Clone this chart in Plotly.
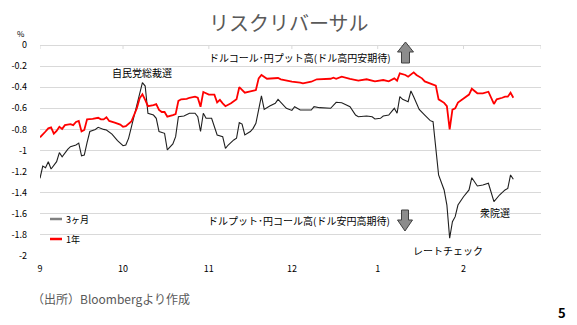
import plotly.graph_objects as go

# ---------------- data ----------------
dates_1y = ["2025-09-01","2025-09-02","2025-09-03","2025-09-04","2025-09-05","2025-09-06","2025-09-07",
            "2025-09-08","2025-09-09","2025-09-10","2025-09-12","2025-09-13","2025-09-14","2025-09-15",
            "2025-09-16","2025-09-17","2025-09-18","2025-09-20","2025-09-22","2025-09-23","2025-09-24",
            "2025-09-25","2025-09-26","2025-09-28","2025-09-30","2025-10-01","2025-10-02","2025-10-04",
            "2025-10-05","2025-10-06","2025-10-07","2025-10-08","2025-10-09","2025-10-10","2025-10-12",
            "2025-10-13","2025-10-14","2025-10-15","2025-10-16","2025-10-17","2025-10-19","2025-10-20",
            "2025-10-21","2025-10-22","2025-10-24","2025-10-25","2025-10-27","2025-10-28","2025-10-29",
            "2025-10-30","2025-11-01","2025-11-02","2025-11-03","2025-11-04","2025-11-05","2025-11-06",
            "2025-11-07","2025-11-09","2025-11-11","2025-11-12","2025-11-14","2025-11-16","2025-11-18",
            "2025-11-19","2025-11-20","2025-11-22","2025-11-24","2025-11-26","2025-11-27","2025-11-29",
            "2025-12-01","2025-12-04","2025-12-05","2025-12-08","2025-12-10","2025-12-15","2025-12-16",
            "2025-12-17","2025-12-19","2025-12-22","2025-12-25","2025-12-28","2025-12-31","2026-01-03",
            "2026-01-05","2026-01-07","2026-01-08","2026-01-09","2026-01-11","2026-01-12","2026-01-14",
            "2026-01-15","2026-01-17","2026-01-18","2026-01-21","2026-01-22","2026-01-23","2026-01-25",
            "2026-01-26","2026-01-27","2026-01-28","2026-01-29","2026-01-30","2026-02-01","2026-02-03",
            "2026-02-04","2026-02-06","2026-02-08","2026-02-10","2026-02-12","2026-02-13","2026-02-15",
            "2026-02-16","2026-02-17","2026-02-18","2026-02-19"]
vals_1y = [-0.875,-0.85,-0.82,-0.79,-0.78,-0.84,-0.815,
           -0.775,-0.795,-0.76,-0.75,-0.76,-0.73,-0.72,
           -0.82,-0.805,-0.705,-0.70,-0.69,-0.705,-0.705,
           -0.685,-0.72,-0.735,-0.755,-0.775,-0.77,-0.725,
           -0.665,-0.60,-0.505,-0.467,-0.52,-0.58,-0.57,
           -0.56,-0.615,-0.635,-0.635,-0.68,-0.665,-0.655,
           -0.53,-0.515,-0.51,-0.50,-0.49,-0.50,-0.585,
           -0.445,-0.47,-0.467,-0.47,-0.545,-0.52,-0.553,
           -0.58,-0.553,-0.515,-0.40,-0.452,-0.44,-0.427,
           -0.316,-0.284,-0.32,-0.32,-0.313,-0.325,-0.338,
           -0.348,-0.357,-0.363,-0.348,-0.325,-0.32,-0.31,
           -0.32,-0.30,-0.32,-0.338,-0.325,-0.344,-0.332,
           -0.344,-0.316,-0.338,-0.268,-0.284,-0.30,-0.259,
           -0.284,-0.316,-0.345,-0.37,-0.385,-0.515,-0.548,
           -0.58,-0.80,-0.613,-0.60,-0.545,-0.51,-0.47,
           -0.415,-0.458,-0.458,-0.443,-0.559,-0.515,-0.50,
           -0.49,-0.49,-0.452,-0.50]

dates_3m = ["2025-09-01","2025-09-02","2025-09-03","2025-09-04","2025-09-05","2025-09-07","2025-09-08",
            "2025-09-09","2025-09-11","2025-09-12","2025-09-14","2025-09-15","2025-09-16","2025-09-17",
            "2025-09-18","2025-09-19","2025-09-21","2025-09-22","2025-09-24","2025-09-25","2025-09-27",
            "2025-09-29","2025-10-01","2025-10-02","2025-10-03","2025-10-04","2025-10-05","2025-10-06",
            "2025-10-07","2025-10-08","2025-10-09","2025-10-10","2025-10-12","2025-10-13","2025-10-14",
            "2025-10-16","2025-10-17","2025-10-19","2025-10-20","2025-10-21","2025-10-23","2025-10-25",
            "2025-10-27","2025-10-28","2025-10-29","2025-10-30","2025-10-31","2025-11-02","2025-11-04",
            "2025-11-06","2025-11-07","2025-11-08","2025-11-10","2025-11-11","2025-11-12","2025-11-13",
            "2025-11-14","2025-11-16","2025-11-17","2025-11-18","2025-11-20","2025-11-21","2025-11-23",
            "2025-11-25","2025-11-26","2025-11-28","2025-11-29","2025-12-01","2025-12-02","2025-12-04",
            "2025-12-08","2025-12-09","2025-12-11","2025-12-15","2025-12-17","2025-12-19","2025-12-22",
            "2025-12-24","2025-12-25","2025-12-28","2025-12-30","2025-12-31","2026-01-02","2026-01-03",
            "2026-01-05","2026-01-07","2026-01-08","2026-01-09","2026-01-10","2026-01-12","2026-01-13",
            "2026-01-14","2026-01-16","2026-01-18","2026-01-20","2026-01-21","2026-01-22","2026-01-23",
            "2026-01-25","2026-01-26","2026-01-27","2026-01-28","2026-01-29","2026-01-30","2026-02-01",
            "2026-02-03","2026-02-04","2026-02-06","2026-02-08","2026-02-10","2026-02-12","2026-02-14",
            "2026-02-16","2026-02-17","2026-02-18","2026-02-19"]
vals_3m = [-1.264,-1.147,-1.163,-1.106,-1.175,-1.106,-1.02,
           -1.06,-0.99,-0.964,-0.948,-0.93,-1.05,-1.043,
           -0.926,-0.82,-0.80,-0.78,-0.80,-0.806,-0.844,
           -0.907,-0.955,-0.948,-0.885,-0.774,-0.68,-0.58,
           -0.47,-0.357,-0.389,-0.647,-0.664,-0.695,-0.82,
           -0.837,-0.995,-0.938,-0.869,-0.68,-0.673,-0.647,
           -0.647,-0.68,-0.82,-0.647,-0.695,-0.695,-0.853,
           -0.869,-0.98,-0.948,-0.90,-0.884,-0.736,-0.749,
           -0.853,-0.82,-0.79,-0.742,-0.483,-0.61,-0.578,
           -0.553,-0.515,-0.569,-0.60,-0.62,-0.585,-0.616,
           -0.616,-0.585,-0.594,-0.60,-0.543,-0.547,-0.585,
           -0.664,-0.68,-0.673,-0.68,-0.701,-0.695,-0.673,
           -0.664,-0.60,-0.647,-0.49,-0.515,-0.537,-0.436,
           -0.49,-0.61,-0.664,-0.717,-0.727,-0.964,-1.232,
           -1.374,-1.517,-1.832,-1.675,-1.627,-1.517,-1.438,
           -1.374,-1.258,-1.336,-1.327,-1.311,-1.485,-1.422,
           -1.374,-1.359,-1.232,-1.273]

series_names = ["3ヶ月", "1年"]
x_tick_dates = ["2025-09-01","2025-10-01","2025-11-01","2025-12-01","2026-01-01","2026-02-01"]
x_tick_labels = ["9","10","11","12","1","2"]
x_mark_dates = x_tick_dates + ["2026-03-01"]
x_range = ["2025-09-01", "2026-03-01"]
y_ticks = [0,-0.2,-0.4,-0.6,-0.8,-1,-1.2,-1.4,-1.6,-1.8,-2]
y_tick_labels = ["0","-0.2","-0.4","-0.6","-0.8","-1","-1.2","-1.4","-1.6","-1.8","-2"]

# ---------------- layout helpers ----------------
W, H = 577, 325
L, R, T, B = 40, 36, 45, 69
PW, PH = W - L - R, H - T - B
FONT = "Noto Sans CJK JP"
GRID = "#d9d9d9"

def px(x, y):
    return (x - L) / PW, (H - B - y) / PH

fig = go.Figure()
fig.add_trace(go.Scatter(x=dates_3m, y=vals_3m, mode="lines", name=series_names[0],
                         line=dict(color="#1f1f1f", width=1.1), showlegend=False))
fig.add_trace(go.Scatter(x=dates_1y, y=vals_1y, mode="lines", name=series_names[1],
                         line=dict(color="#ff0000", width=1.8), showlegend=False))

annotations = []
def txt(text, x, y, size=10, xanchor="center", color="#000000", yanchor="middle"):
    xx, yy = px(x, y)
    annotations.append(dict(text=text, x=xx, y=yy, xref="paper", yref="paper",
                            xanchor=xanchor, yanchor=yanchor, showarrow=False,
                            font=dict(family=FONT, size=size, color=color)))

txt("リスクリバーサル", 289, 22, size=20, color="#595959")
txt("%", 21, 33, size=8)
txt("自民党総裁選", 141.5, 72.5, size=10)
txt("ドルコール･円プット高(ドル高円安期待)", 207, 57, size=10, xanchor="left")
txt("ドルプット･円コール高(ドル安円高期待)", 206, 220, size=10, xanchor="left")
txt("レートチェック", 448, 250, size=10)
txt("衆院選", 495, 212, size=10)
txt(series_names[0], 64, 219, size=9, xanchor="left")
txt(series_names[1], 64, 239, size=9, xanchor="left")
txt("（出所）Bloombergより作成", 30, 298, size=12, xanchor="left", color="#595959")
txt("<b>5</b>", 562, 312, size=13)

shapes = []
# legend line samples
for yy, col in [(219, "#808080"), (239, "#ff0000")]:
    x0, y0 = px(50, yy)
    x1, _ = px(62, yy)
    shapes.append(dict(type="line", xref="paper", yref="paper", x0=x0, x1=x1, y0=y0, y1=y0,
                       line=dict(color=col, width=2.5)))
# axis tick marks at the zero line
for d in x_mark_dates:
    shapes.append(dict(type="line", xref="x", yref="paper", x0=d, x1=d, y0=1, y1=1 - 4 / PH,
                       line=dict(color=GRID, width=1)))

def arrow(points):
    parts = []
    for i, (x, y) in enumerate(points):
        xx, yy = px(x, y)
        parts.append(("M" if i == 0 else "L") + f"{xx:.5f},{yy:.5f}")
    return " ".join(parts) + " Z"

up = [(405.5, 42), (413.5, 52), (409.5, 52), (409.5, 63), (401.5, 63), (401.5, 52), (397.5, 52)]
down = [(401.5, 210), (408.5, 210), (408.5, 220), (412.5, 220), (405, 231), (397.5, 220), (401.5, 220)]
for pts in (up, down):
    shapes.append(dict(type="path", xref="paper", yref="paper", path=arrow(pts),
                       fillcolor="#8c8c8c", line=dict(color="#404040", width=1)))

fig.update_layout(
    width=W, height=H,
    margin=dict(l=L, r=R, t=T, b=B),
    paper_bgcolor="white", plot_bgcolor="white",
    font=dict(family=FONT, size=9, color="#000000"),
    annotations=annotations, shapes=shapes,
    xaxis=dict(type="date", range=x_range, tickvals=x_tick_dates, ticktext=x_tick_labels,
               showgrid=False, zeroline=False, showline=False, ticks="",
               ticklabelstandoff=6, tickfont=dict(size=9, family=FONT, color="#000000")),
    yaxis=dict(range=[-2, 0], tickvals=y_ticks, ticktext=y_tick_labels,
               showgrid=True, gridcolor=GRID, gridwidth=1,
               zeroline=True, zerolinecolor=GRID, zerolinewidth=1,
               showline=False, ticks="", ticklabelstandoff=12,
               tickfont=dict(size=9, family=FONT, color="#000000")),
)

fig.write_html("out.html")
